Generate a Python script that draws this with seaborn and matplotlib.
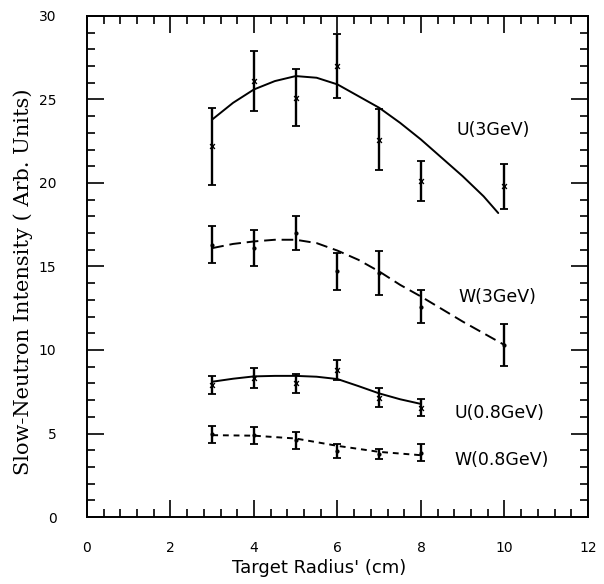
import numpy as np
import pandas as pd
import matplotlib
matplotlib.use("Agg")
import matplotlib.pyplot as plt
import seaborn as sns
from matplotlib.ticker import MultipleLocator

# measured points (radius cm, intensity, error)
u3_x = [3, 4, 5, 6, 7, 8, 10]
u3_y = [22.2, 26.1, 25.1, 27.0, 22.6, 20.1, 19.8]
u3_err = [2.3, 1.8, 1.7, 1.9, 1.8, 1.2, 1.35]

w3_x = [3, 4, 5, 6, 7, 8, 10]
w3_y = [16.3, 16.1, 17.0, 14.7, 14.6, 12.6, 10.3]
w3_err = [1.1, 1.1, 1.0, 1.1, 1.3, 1.0, 1.25]

u08_x = [3, 4, 5, 6, 7, 8]
u08_y = [7.9, 8.3, 8.0, 8.8, 7.15, 6.55]
u08_err = [0.55, 0.6, 0.55, 0.6, 0.55, 0.5]

w08_x = [3, 4, 5, 6, 7, 8]
w08_y = [4.95, 4.9, 4.6, 3.95, 3.8, 3.85]
w08_err = [0.5, 0.5, 0.5, 0.4, 0.3, 0.5]

# calculated curves
u3c_x = [3, 3.5, 4, 4.5, 5, 5.5, 6, 6.5, 7, 7.5, 8, 8.5, 9, 9.5, 9.85]
u3c_y = [23.8, 24.8, 25.6, 26.1, 26.4, 26.3, 25.9, 25.2, 24.5, 23.6, 22.6, 21.5, 20.4, 19.2, 18.2]

w3c_x = [3, 3.5, 4, 4.5, 5, 5.5, 6, 6.5, 7, 7.5, 8, 9, 10]
w3c_y = [16.1, 16.35, 16.5, 16.6, 16.6, 16.4, 15.95, 15.4, 14.7, 13.9, 13.2, 11.7, 10.3]

u08c_x = [3, 3.5, 4, 4.5, 5, 5.5, 6, 6.5, 7, 7.5, 8]
u08c_y = [8.1, 8.28, 8.42, 8.45, 8.45, 8.4, 8.26, 7.84, 7.4, 7.05, 6.77]

w08c_x = [3, 4, 5, 6, 7, 8]
w08c_y = [4.9, 4.87, 4.7, 4.26, 3.9, 3.7]

labels = ["U(3GeV)", "W(3GeV)", "U(0.8GeV)", "W(0.8GeV)"]
label_pos = [(8.85, 23.2), (8.9, 13.2), (8.8, 6.2), (8.8, 3.4)]

sns.set_style("ticks")
plt.rcParams['font.family'] = ['DejaVu Sans']
plt.rcParams['text.color'] = 'black'
plt.rcParams['axes.labelcolor'] = 'black'
plt.rcParams['xtick.color'] = 'black'
plt.rcParams['ytick.color'] = 'black'

fig = plt.figure(figsize=(6.04, 5.84), dpi=100)
ax = fig.add_axes([0.144, 0.1147, 0.8295, 0.858])

curves = [
    (u3c_x, u3c_y, (None, None)),
    (w3c_x, w3c_y, (6, 3)),
    (u08c_x, u08c_y, (None, None)),
    (w08c_x, w08c_y, (3, 2.5)),
]
for cx, cy, dash in curves:
    df = pd.DataFrame({"r": cx, "I": cy})
    sns.lineplot(data=df, x="r", y="I", ax=ax, color="black",
                 linewidth=1.4, sort=True)
    if dash[0] is not None:
        ax.lines[-1].set_dashes(dash)

points = [
    (u3_x, u3_y, u3_err, "x"),
    (w3_x, w3_y, w3_err, "o"),
    (u08_x, u08_y, u08_err, "x"),
    (w08_x, w08_y, w08_err, "o"),
]
for px, py, pe, mk in points:
    ax.errorbar(px, py, yerr=pe, fmt="none", ecolor="black",
                elinewidth=1.7, capsize=3, capthick=1.3)
    if mk == "x":
        ax.scatter(px, py, marker="x", s=12, color="black", linewidths=1)
    else:
        ax.scatter(px, py, marker="o", s=9, color="black", linewidths=0)

for txt, (tx, ty) in zip(labels, label_pos):
    ax.text(tx, ty, txt, fontsize=12.5, va="center", ha="left", color="black")

ax.set_xlim(0, 12)
ax.set_ylim(0, 30)
ax.xaxis.set_major_locator(MultipleLocator(2))
ax.xaxis.set_minor_locator(MultipleLocator(0.4))
ax.yaxis.set_major_locator(MultipleLocator(5))
ax.yaxis.set_minor_locator(MultipleLocator(1))
ax.tick_params(which="both", direction="in", top=True, right=True,
               color="black", width=1.2)
ax.tick_params(which="major", length=12, labelsize=10)
ax.tick_params(axis="y", which="major", pad=22)
ax.tick_params(axis="x", which="major", pad=17)
ax.tick_params(which="minor", length=6)
for s in ax.spines.values():
    s.set_linewidth(1.4)
    s.set_color("black")

ax.set_xlabel("Target Radius' (cm)", fontsize=13)
ax.xaxis.set_label_coords(0.463, -0.084)
ax.set_ylabel("Slow-Neutron Intensity ( Arb. Units)", fontsize=15,
              family="DejaVu Serif")
ax.yaxis.set_label_coords(-0.108, 0.47)

fig.savefig("out.png", dpi=100, facecolor="white")
